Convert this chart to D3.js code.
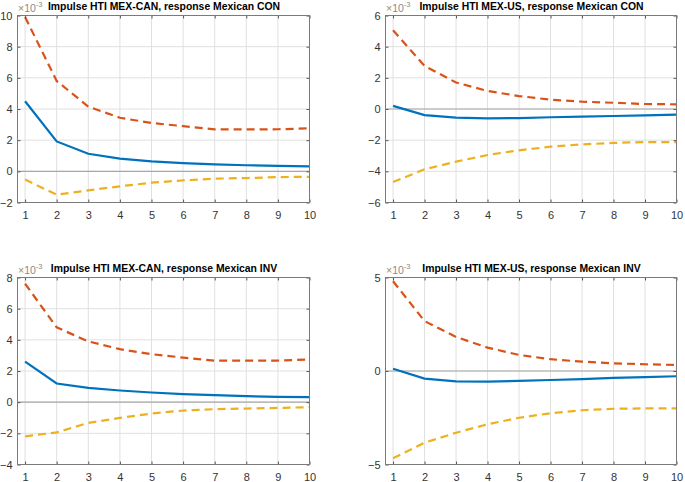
<!DOCTYPE html>
<html><head><meta charset="utf-8">
<script src="https://cdn.jsdelivr.net/npm/d3@7"></script>
<style>
body{margin:0;background:#fff}
svg{display:block}
text{font-family:"Liberation Sans",Arial,Helvetica,sans-serif}
</style>
</head><body>
<svg id="c" width="685" height="482"></svg>
<script>
// ---- data (values in units of 10^-3) ----
const periods = [1,2,3,4,5,6,7,8,9,10];
const xTickLabels = [1,2,3,4,5,6,7,8,9,10];

const titleCanCon = "Impulse HTI MEX-CAN, response Mexican CON";
const titleUsCon  = "Impulse HTI MEX-US, response Mexican CON";
const titleCanInv = "Impulse HTI MEX-CAN, response Mexican INV";
const titleUsInv  = "Impulse HTI MEX-US, response Mexican INV";

const canConIrf   = [4.5, 1.92, 1.13, 0.81, 0.64, 0.53, 0.45, 0.39, 0.35, 0.32];
const canConUpper = [9.9, 5.8, 4.15, 3.44, 3.1, 2.9, 2.69, 2.69, 2.7, 2.76];
const canConLower = [-0.53, -1.5, -1.22, -0.96, -0.73, -0.58, -0.47, -0.43, -0.37, -0.35];
const canConTicks = [-2, 0, 2, 4, 6, 8, 10];

const usConIrf   = [0.2, -0.39, -0.55, -0.6, -0.58, -0.53, -0.49, -0.45, -0.41, -0.36];
const usConUpper = [5.05, 2.76, 1.7, 1.16, 0.83, 0.6, 0.47, 0.4, 0.32, 0.3];
const usConLower = [-4.69, -3.87, -3.38, -2.95, -2.65, -2.42, -2.27, -2.18, -2.12, -2.12];
const usConTicks = [-6, -4, -2, 0, 2, 4, 6];

const canInvIrf   = [2.6, 1.2, 0.92, 0.75, 0.62, 0.52, 0.45, 0.39, 0.34, 0.32];
const canInvUpper = [7.6, 4.8, 3.9, 3.4, 3.08, 2.86, 2.66, 2.67, 2.67, 2.74];
const canInvLower = [-2.19, -1.94, -1.33, -1.01, -0.73, -0.54, -0.45, -0.41, -0.37, -0.32];
const canInvTicks = [-4, -2, 0, 2, 4, 6, 8];

const usInvIrf   = [0.12, -0.41, -0.55, -0.57, -0.53, -0.48, -0.43, -0.37, -0.33, -0.28];
const usInvUpper = [4.8, 2.67, 1.82, 1.25, 0.86, 0.63, 0.5, 0.41, 0.36, 0.32];
const usInvLower = [-4.67, -3.83, -3.3, -2.85, -2.5, -2.26, -2.1, -2.02, -2.0, -2.0];
const usInvTicks = [-5, 0, 5];

// ---- layout ----
const panels = [
  {title: titleCanCon, irf: canConIrf, up: canConUpper, lo: canConLower, ticks: canConTicks,
   box: {l: 17.5, r: 309.5, t: 15.5, b: 202.5}},
  {title: titleUsCon, irf: usConIrf, up: usConUpper, lo: usConLower, ticks: usConTicks,
   box: {l: 385.5, r: 676.5, t: 15.5, b: 202.5}},
  {title: titleCanInv, irf: canInvIrf, up: canInvUpper, lo: canInvLower, ticks: canInvTicks,
   box: {l: 17.5, r: 309.5, t: 277.5, b: 464.5}},
  {title: titleUsInv, irf: usInvIrf, up: usInvUpper, lo: usInvLower, ticks: usInvTicks,
   box: {l: 385.5, r: 676.5, t: 277.5, b: 464.5}}
];

const C_BLUE = "#0072BD", C_RED = "#D95319", C_YEL = "#EDB120";
const svg = d3.select("#c");

panels.forEach(p => {
  const b = p.box;
  const x = d3.scaleLinear().domain([0.76, 10]).range([b.l, b.r]);
  const y = d3.scaleLinear().domain(d3.extent(p.ticks)).range([b.b, b.t]);
  const g = svg.append("g");

  // grid
  g.selectAll(".gx").data(xTickLabels).enter().append("line")
    .attr("x1", d => x(d)).attr("x2", d => x(d)).attr("y1", b.t).attr("y2", b.b)
    .attr("stroke", "#e0e0e0").attr("stroke-width", 1);
  g.selectAll(".gy").data(p.ticks).enter().append("line")
    .attr("x1", b.l).attr("x2", b.r).attr("y1", d => y(d)).attr("y2", d => y(d))
    .attr("stroke", "#e0e0e0").attr("stroke-width", 1);

  // zero line
  g.append("line").attr("x1", b.l).attr("x2", b.r).attr("y1", y(0)).attr("y2", y(0))
    .attr("stroke", "#a8a8a8").attr("stroke-width", 1.2);

  const line = d3.line().x((d, i) => x(periods[i])).y(d => y(d));
  g.append("path").datum(p.irf).attr("d", line).attr("fill", "none")
    .attr("stroke", C_BLUE).attr("stroke-width", 2.2);
  g.append("path").datum(p.up).attr("d", line).attr("fill", "none")
    .attr("stroke", C_RED).attr("stroke-width", 2.2).attr("stroke-dasharray", "8,5");
  g.append("path").datum(p.lo).attr("d", line).attr("fill", "none")
    .attr("stroke", C_YEL).attr("stroke-width", 2.2).attr("stroke-dasharray", "8,5");

  // axes
  const ax = g.append("g").attr("transform", `translate(0,${b.b})`)
    .call(d3.axisBottom(x).tickValues(xTickLabels).tickSizeInner(-3).tickSizeOuter(0).tickPadding(9));
  const ay = g.append("g").attr("transform", `translate(${b.l},0)`)
    .call(d3.axisLeft(y).tickValues(p.ticks).tickSizeInner(-3).tickSizeOuter(0).tickPadding(5));
  const axT = g.append("g").attr("transform", `translate(0,${b.t})`)
    .call(d3.axisTop(x).tickValues(xTickLabels).tickSizeInner(-3).tickSizeOuter(0).tickFormat(""));
  const ayR = g.append("g").attr("transform", `translate(${b.r},0)`)
    .call(d3.axisRight(y).tickValues(p.ticks).tickSizeInner(-3).tickSizeOuter(0).tickFormat(""));
  [ax, ay, axT, ayR].forEach(a => {
    a.select(".domain").remove();
    a.selectAll(".tick line").attr("stroke", "#555");
    a.selectAll("text").attr("font-size", "11px").attr("fill", "#333")
      .attr("font-family", '"Liberation Sans",Arial,sans-serif');
  });

  // box
  g.append("rect").attr("x", b.l).attr("y", b.t).attr("width", b.r - b.l).attr("height", b.b - b.t)
    .attr("fill", "none").attr("stroke", "#7a7a7a").attr("stroke-width", 1);

  // exponent
  const ex = g.append("text").attr("x", b.l + 0.5).attr("y", b.t - 4)
    .attr("font-size", "10.5px").attr("fill", "#8a8a8a");
  ex.append("tspan").text("\u00d710");
  ex.append("tspan").attr("dy", -4.5).attr("font-size", "7.5px").text("-3");

  // title
  g.append("text").attr("x", (b.l + b.r) / 2 + 0.5).attr("y", b.t - 6)
    .attr("text-anchor", "middle").attr("font-size", "10.4px").attr("font-weight", "bold")
    .attr("fill", "#000").text(p.title);
});
</script>
</body></html>
